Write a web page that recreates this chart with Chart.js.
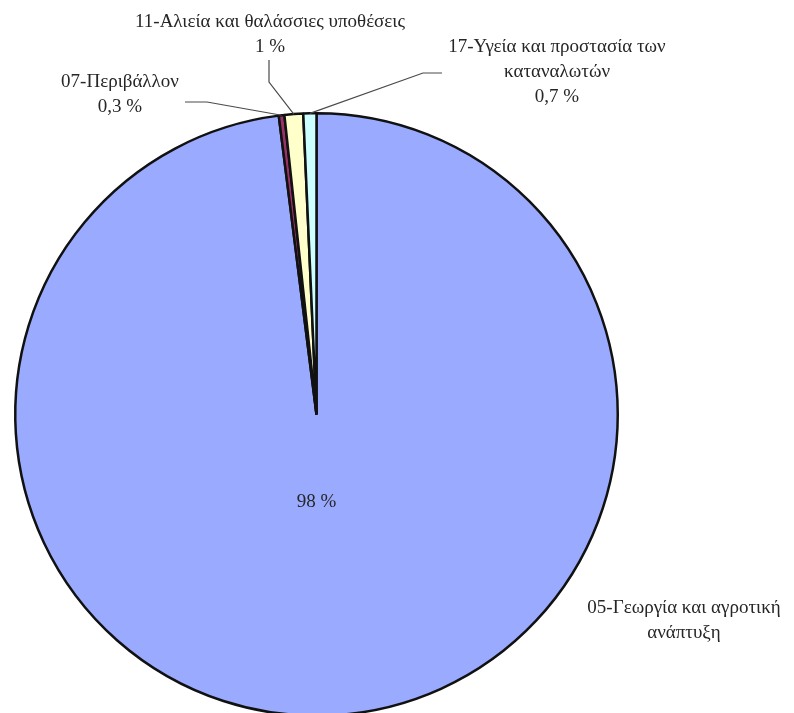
<!DOCTYPE html>
<html>
<head>
<meta charset="utf-8">
<script src="https://cdn.jsdelivr.net/npm/chart.js@4"></script>
<style>
  html, body { margin: 0; padding: 0; overflow: hidden; background: #fff; }
  #wrap { width: 794px; height: 713px; overflow: hidden; }
</style>
</head>
<body>
<div id="wrap"><canvas id="myChart" width="794" height="830"></canvas></div>
<script>
// data
var categories = [
  "05-Γεωργία και αγροτική ανάπτυξη",
  "07-Περιβάλλον",
  "11-Αλιεία και θαλάσσιες υποθέσεις",
  "17-Υγεία και προστασία των καταναλωτών"
];
var shares = [98, 0.3, 1, 0.7];
var colors = ["#9AABFF", "#993366", "#FFFFCC", "#CCFFFF"];

// label text lines (category split as in the picture) and their placement
var labelLines = [
  ["05-Γεωργία και αγροτική", "ανάπτυξη"],
  ["07-Περιβάλλον"],
  ["11-Αλιεία και θαλάσσιες υποθέσεις"],
  ["17-Υγεία και προστασία των", "καταναλωτών"]
];
var labelCenter = [[684, 608], [120, 82], [270, 22], [557, 47]];
// leader line: start point and elbow, end is the slice's outer midpoint
var leaders = [null, [[185, 102], [207, 102]], [[269, 60], [269, 82]], [[442, 73], [423, 73]]];

var font = "19px 'Liberation Serif', serif";
var lineH = 25;

function pct(v) {
  return String(v).replace(".", ",") + " %";
}

var labelsPlugin = {
  id: "pieLabels",
  afterDatasetsDraw: function (chart) {
    var ctx = chart.ctx;
    var arcs = chart.getDatasetMeta(0).data;
    ctx.save();
    ctx.font = font;
    ctx.fillStyle = "#262626";
    ctx.textAlign = "center";
    ctx.textBaseline = "middle";
    arcs.forEach(function (arc, i) {
      var p = arc.getProps(["x", "y", "startAngle", "endAngle", "outerRadius"], true);
      var mid = (p.startAngle + p.endAngle) / 2;
      var c = labelCenter[i];
      var lines = labelLines[i];
      if (i === 0) {
        // big slice: percentage inside, name outside
        ctx.fillText(pct(shares[i]), p.x, p.y + p.outerRadius * 0.29);
      } else {
        lines = lines.concat([pct(shares[i])]);
      }
      lines.forEach(function (t, k) {
        ctx.fillText(t, c[0], c[1] + k * lineH);
      });
      var ld = leaders[i];
      if (ld) {
        ctx.beginPath();
        ctx.strokeStyle = "#4a4a4a";
        ctx.lineWidth = 1.2;
        ctx.moveTo(ld[0][0], ld[0][1]);
        ctx.lineTo(ld[1][0], ld[1][1]);
        ctx.lineTo(p.x + Math.cos(mid) * p.outerRadius, p.y + Math.sin(mid) * p.outerRadius);
        ctx.stroke();
      }
    });
    ctx.restore();
  }
};

var ctx = document.getElementById("myChart").getContext("2d");
var myChart = new Chart(ctx, {
  type: "pie",
  data: {
    labels: categories,
    datasets: [{
      data: shares,
      backgroundColor: colors,
      borderColor: "#111111",
      borderWidth: 2.5
    }]
  },
  options: {
    responsive: false,
    animation: false,
    layout: { padding: { left: 14, right: 175, top: 112, bottom: 113 } },
    plugins: {
      legend: { display: false },
      tooltip: { enabled: false }
    }
  },
  plugins: [labelsPlugin]
});
</script>
</body>
</html>
